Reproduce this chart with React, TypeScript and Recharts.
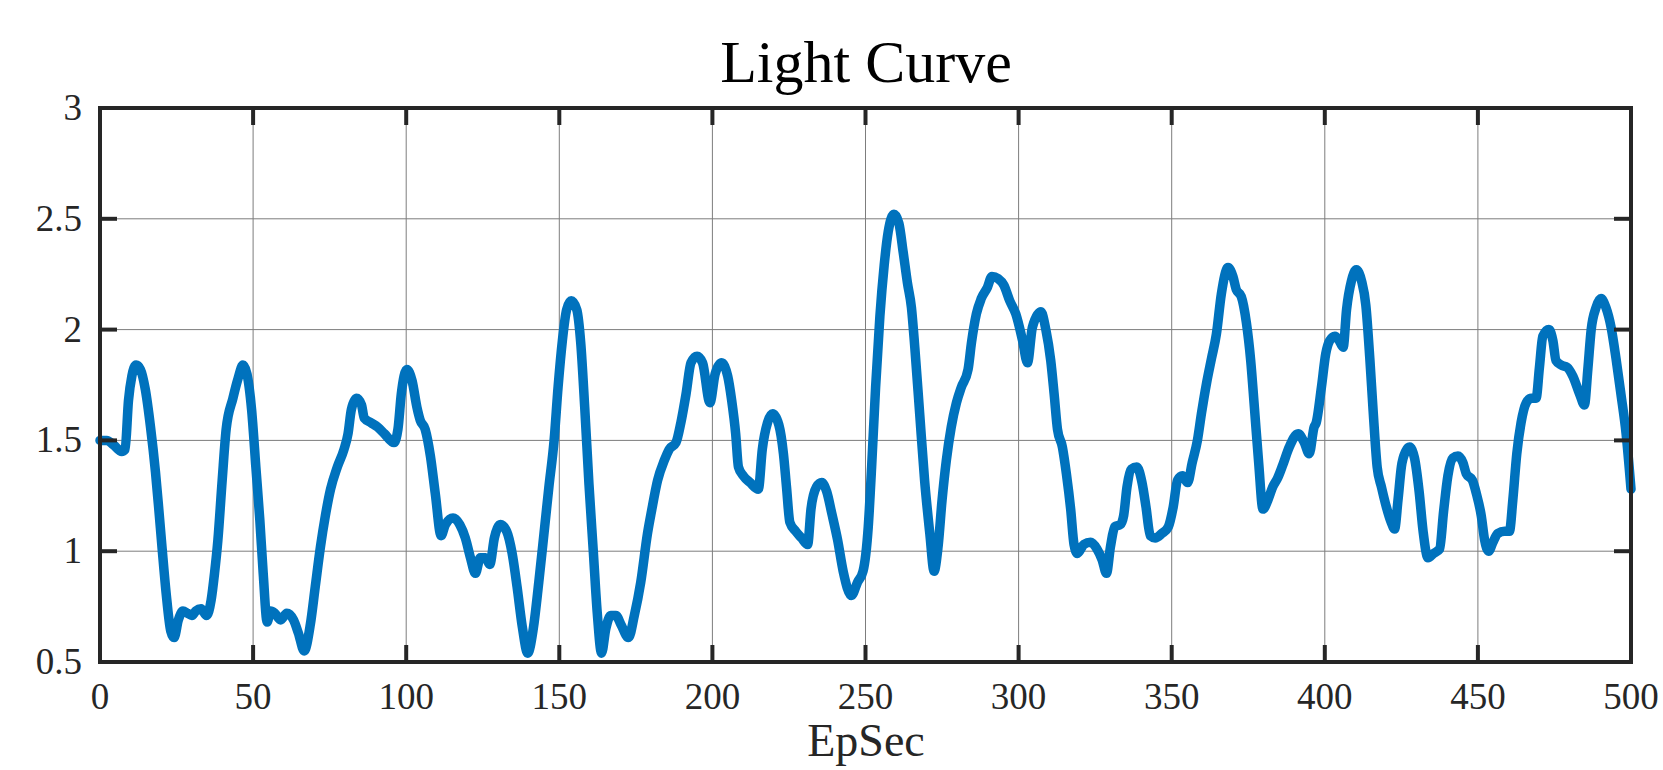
import React from "react";
import { CartesianGrid, Line, LineChart, XAxis, YAxis } from "recharts";

// time samples (s) and flux
const epSec = [
  0, 2.2, 4.4, 7.1, 8.2, 9.3, 10.4, 11.8, 13.2, 14.8, 16.5, 18.1, 19.2, 20.3, 21.6, 23.1, 24.2, 25.6, 27.1, 28.6,
  30, 31.3, 33, 34.8, 36.3, 37.4, 38.5, 39.9, 41.2, 43.4, 45.1, 46.7, 48, 49.5, 50.9, 52.2, 53.3, 54.6, 55.7, 57.1,
  59, 61, 63.2, 64.8, 66.7, 68.7, 70.3, 72, 73.6, 75.3, 77.5, 79.7, 81, 82.1, 83.8, 85.4, 86.3, 88.5, 90.7, 92.9,
  96, 97.3, 98.4, 100.2, 101.9, 103.5, 104.6, 106.2, 107.9, 109.5, 111.4, 112.8, 115.3, 117.5, 119.3, 121, 122.6,
  124.2, 125.9, 127.3, 128.8, 130.8, 132.8, 134.6, 136.2, 137.9, 139.7, 141.5, 143.3, 145, 146.6, 148.3, 149.6,
  151, 152.4, 153.9, 155.7, 157, 158.3, 159.7, 161.1, 162.4, 163.8, 165.2, 166.8, 168.5, 170.1, 172.6, 174.5,
  176.6, 178.8, 180.1, 182.1, 184.3, 185.9, 188.1, 189.7, 191.4, 193, 195, 196.8, 199.2, 200.9, 203, 205, 206.3,
  207.6, 208.5, 210.1, 212.3, 215, 216.3, 218, 219.7, 221.7, 223.2, 224.2, 225.3, 227.2, 229.1, 231.1, 232.2,
  234, 235.7, 237.3, 239, 240.9, 242.7, 245.4, 247.4, 249.2, 250.9, 252, 253.3, 254.7, 256.1, 257.4, 259.3,
  260.9, 262.3, 263.7, 265, 266.1, 267.7, 269.3, 271, 272.4, 273.7, 275, 276.4, 278, 279.7, 281.3, 283.5, 284.6,
  286.2, 287.8, 289.8, 291.3, 293.3, 295.2, 297.1, 299.1, 301.3, 302.9, 304.5, 307.3, 308.9, 310.5, 311.6, 312.7,
  314.3, 315.6, 317, 318.1, 319.2, 321.3, 323.5, 325.6, 327.3, 328.7, 330, 331.4, 333.2, 334.3, 335.4, 336.8,
  338.6, 340.3, 341.6, 343, 344.6, 346.8, 348.9, 350.5, 351.9, 353.5, 355.2, 356.7, 358.4, 359.7, 361.4, 363,
  364.6, 366.2, 368.4, 370, 371.1, 372.7, 374.4, 375.8, 377, 378.4, 379.8, 381.4, 383, 384.6, 386.3, 388.4, 391.3,
  393.3, 394.9, 396.5, 397.2, 398.9, 400.3, 401.6, 403.3, 404.7, 406, 407.1, 408.7, 410.3, 412, 413.4, 414.7,
  415.8, 417.1, 418.5, 420.1, 421.7, 422.8, 423.9, 425, 426.4, 427.7, 429.3, 430.8, 432.1, 433.7, 435.5, 437.5,
  438.8, 440.2, 441.8, 443.5, 445.1, 446.2, 448.2, 449.5, 451.1, 452.2, 453.5, 454.9, 456.5, 458.7, 460.3, 461.4,
  462.7, 464.1, 465.8, 467.4, 469, 470.1, 471.2, 473.2, 474.5, 475.5, 477.2, 479.1, 481, 483.2, 484.8, 485.9, 487,
  488.6, 490.2, 491.8, 493.5, 495.1, 496.7, 498.4, 500,
];

const flux = [
  1.5, 1.5, 1.48, 1.45, 1.46, 1.68, 1.79, 1.84, 1.82, 1.73, 1.56, 1.36, 1.19, 1.01, 0.81, 0.64, 0.61, 0.69, 0.73, 0.72,
  0.71, 0.73, 0.74, 0.71, 0.78, 0.9, 1.05, 1.32, 1.55, 1.69, 1.78, 1.84, 1.8, 1.64, 1.38, 1.14, 0.9, 0.68, 0.73, 0.72,
  0.69, 0.72, 0.69, 0.63, 0.55, 0.67, 0.84, 1.02, 1.16, 1.28, 1.38, 1.46, 1.53, 1.64, 1.69, 1.66, 1.6, 1.58, 1.56, 1.53,
  1.49, 1.55, 1.71, 1.82, 1.77, 1.65, 1.59, 1.55, 1.43, 1.26, 1.07, 1.12, 1.15, 1.12, 1.06, 0.97, 0.9,
  0.97, 0.97, 0.94, 1.06, 1.12, 1.09, 0.99, 0.84, 0.66, 0.54, 0.65, 0.86, 1.08, 1.29, 1.5, 1.74,
  1.95, 2.09, 2.13, 2.09, 1.94, 1.65, 1.3, 1.0, 0.72, 0.54, 0.65, 0.71, 0.71, 0.67, 0.61, 0.71,
  0.86, 1.08, 1.18, 1.32, 1.41, 1.46, 1.49, 1.58, 1.71, 1.85, 1.88, 1.85, 1.67, 1.8, 1.85, 1.79, 1.68,
  1.53, 1.38, 1.34, 1.31, 1.28, 1.46, 1.58, 1.62, 1.57, 1.44, 1.29, 1.13, 1.09, 1.06, 1.03, 1.19,
  1.29, 1.31, 1.27, 1.17, 1.05, 0.91, 0.8, 0.86, 0.91, 1.11, 1.38, 1.74, 2.06, 2.29, 2.44, 2.52,
  2.48, 2.35, 2.21, 2.1, 1.92, 1.62, 1.32, 1.08, 0.91, 1.02, 1.23, 1.41, 1.56, 1.67, 1.74, 1.82, 1.94,
  2.07, 2.14, 2.19, 2.24, 2.23, 2.2, 2.13, 2.07, 1.95, 1.85, 2.01, 2.08, 2.0, 1.86, 1.71, 1.55,
  1.47, 1.35, 1.19, 1.03, 0.99, 1.03, 1.04, 1.01, 0.96, 0.9, 1.02, 1.11, 1.12, 1.16, 1.29, 1.37,
  1.38, 1.31, 1.2, 1.07, 1.06, 1.08, 1.11, 1.2, 1.32, 1.34, 1.31, 1.4, 1.5, 1.62, 1.76, 1.87,
  1.98, 2.16, 2.28, 2.24, 2.18, 2.15, 2.03, 1.86, 1.65, 1.4, 1.19, 1.23, 1.29, 1.33, 1.39, 1.47, 1.53,
  1.49, 1.44, 1.56, 1.58, 1.74, 1.89, 1.95, 1.97, 1.95, 1.92, 2.09, 2.22, 2.27, 2.22, 2.11, 1.87,
  1.63, 1.38, 1.29, 1.2, 1.13, 1.1, 1.23, 1.38, 1.45, 1.47, 1.42, 1.27, 1.09, 0.97, 0.99, 1.01,
  1.18, 1.34, 1.42, 1.43, 1.4, 1.35, 1.32, 1.26, 1.16, 1.05, 1.0, 1.04, 1.08, 1.09, 1.09, 1.23,
  1.44, 1.58, 1.67, 1.69, 1.69, 1.83, 1.97, 2.0, 1.95, 1.86, 1.84, 1.83, 1.79, 1.71, 1.66, 1.82, 2.0,
  2.1, 2.14, 2.1, 2.01, 1.87, 1.71, 1.53, 1.28,
];

const xTicks = [0, 50, 100, 150, 200, 250, 300, 350, 400, 450, 500];
const yTicks = [0.5, 1, 1.5, 2, 2.5, 3];

const W = 1663;
const H = 770;
const FRAME = "#262626";
const FONT = "'Liberation Serif', 'Times New Roman', serif";
const TICK_LEN = 17;
const TICK_W = 4;

const chartData = epSec.map((t, i) => ({ t, flux: flux[i] }));

function BottomTick(props: any) {
  const { x, y, payload } = props;
  return (
    <g>
      <line x1={x} x2={x} y1={y} y2={y - TICK_LEN} stroke={FRAME} strokeWidth={TICK_W} />
      <text x={x} y={y + 47} textAnchor="middle" fontFamily={FONT} fontSize={37} fill={FRAME}>
        {payload.value}
      </text>
    </g>
  );
}

function LeftTick(props: any) {
  const { x, y, payload } = props;
  return (
    <g>
      <line x1={x} x2={x + TICK_LEN} y1={y} y2={y} stroke={FRAME} strokeWidth={TICK_W} />
      <text x={x - 18} y={y + 12} textAnchor="end" fontFamily={FONT} fontSize={37} fill={FRAME}>
        {payload.value}
      </text>
    </g>
  );
}

function TopTick(props: any) {
  const { x, y } = props;
  return <line x1={x} x2={x} y1={y} y2={y + TICK_LEN} stroke={FRAME} strokeWidth={TICK_W} />;
}

function RightTick(props: any) {
  const { x, y } = props;
  return <line x1={x} x2={x - TICK_LEN} y1={y} y2={y} stroke={FRAME} strokeWidth={TICK_W} />;
}

export default function App() {
  const axisLine = { stroke: FRAME, strokeWidth: 4, strokeLinecap: "square" as const };
  return (
    <div style={{ position: "absolute", left: 0, top: 0, width: W, height: H, background: "#fff" }}>
      <LineChart width={W} height={H} data={chartData} margin={{ top: 0, right: 0, bottom: 0, left: 0 }}>
        <CartesianGrid stroke="#7d7d7d" strokeWidth={1} />
        <XAxis
          dataKey="t"
          type="number"
          domain={[0, 500]}
          ticks={xTicks}
          height={108}
          tickSize={0}
          tickMargin={0}
          tickLine={false}
          axisLine={axisLine}
          tick={<BottomTick />}
          interval={0}
        />
        <XAxis
          xAxisId="top"
          orientation="top"
          dataKey="t"
          type="number"
          domain={[0, 500]}
          allowDataOverflow
          ticks={xTicks}
          height={108}
          tickSize={0}
          tickMargin={0}
          tickLine={false}
          axisLine={axisLine}
          tick={<TopTick />}
          interval={0}
        />
        <YAxis
          type="number"
          domain={[0.5, 3]}
          ticks={yTicks}
          width={100}
          tickSize={0}
          tickMargin={0}
          tickLine={false}
          axisLine={axisLine}
          tick={<LeftTick />}
          interval={0}
        />
        <YAxis
          yAxisId="right"
          orientation="right"
          type="number"
          domain={[0.5, 3]}
          allowDataOverflow
          ticks={yTicks}
          width={32}
          tickSize={0}
          tickMargin={0}
          tickLine={false}
          axisLine={axisLine}
          tick={<RightTick />}
          interval={0}
        />
        <Line
          type="monotone"
          dataKey="flux"
          stroke="#0072BD"
          strokeWidth={9.5}
          strokeLinejoin="round"
          strokeLinecap="round"
          dot={false}
          activeDot={false}
          isAnimationActive={false}
        />
      </LineChart>
      <svg width={W} height={H} style={{ position: "absolute", left: 0, top: 0, pointerEvents: "none" }}>
        <text x={866} y={82} textAnchor="middle" fontFamily={FONT} fontSize={60} fill="#000">
          Light Curve
        </text>
        <text x={866} y={756} textAnchor="middle" fontFamily={FONT} fontSize={46} fill={FRAME}>
          EpSec
        </text>
      </svg>
    </div>
  );
}
